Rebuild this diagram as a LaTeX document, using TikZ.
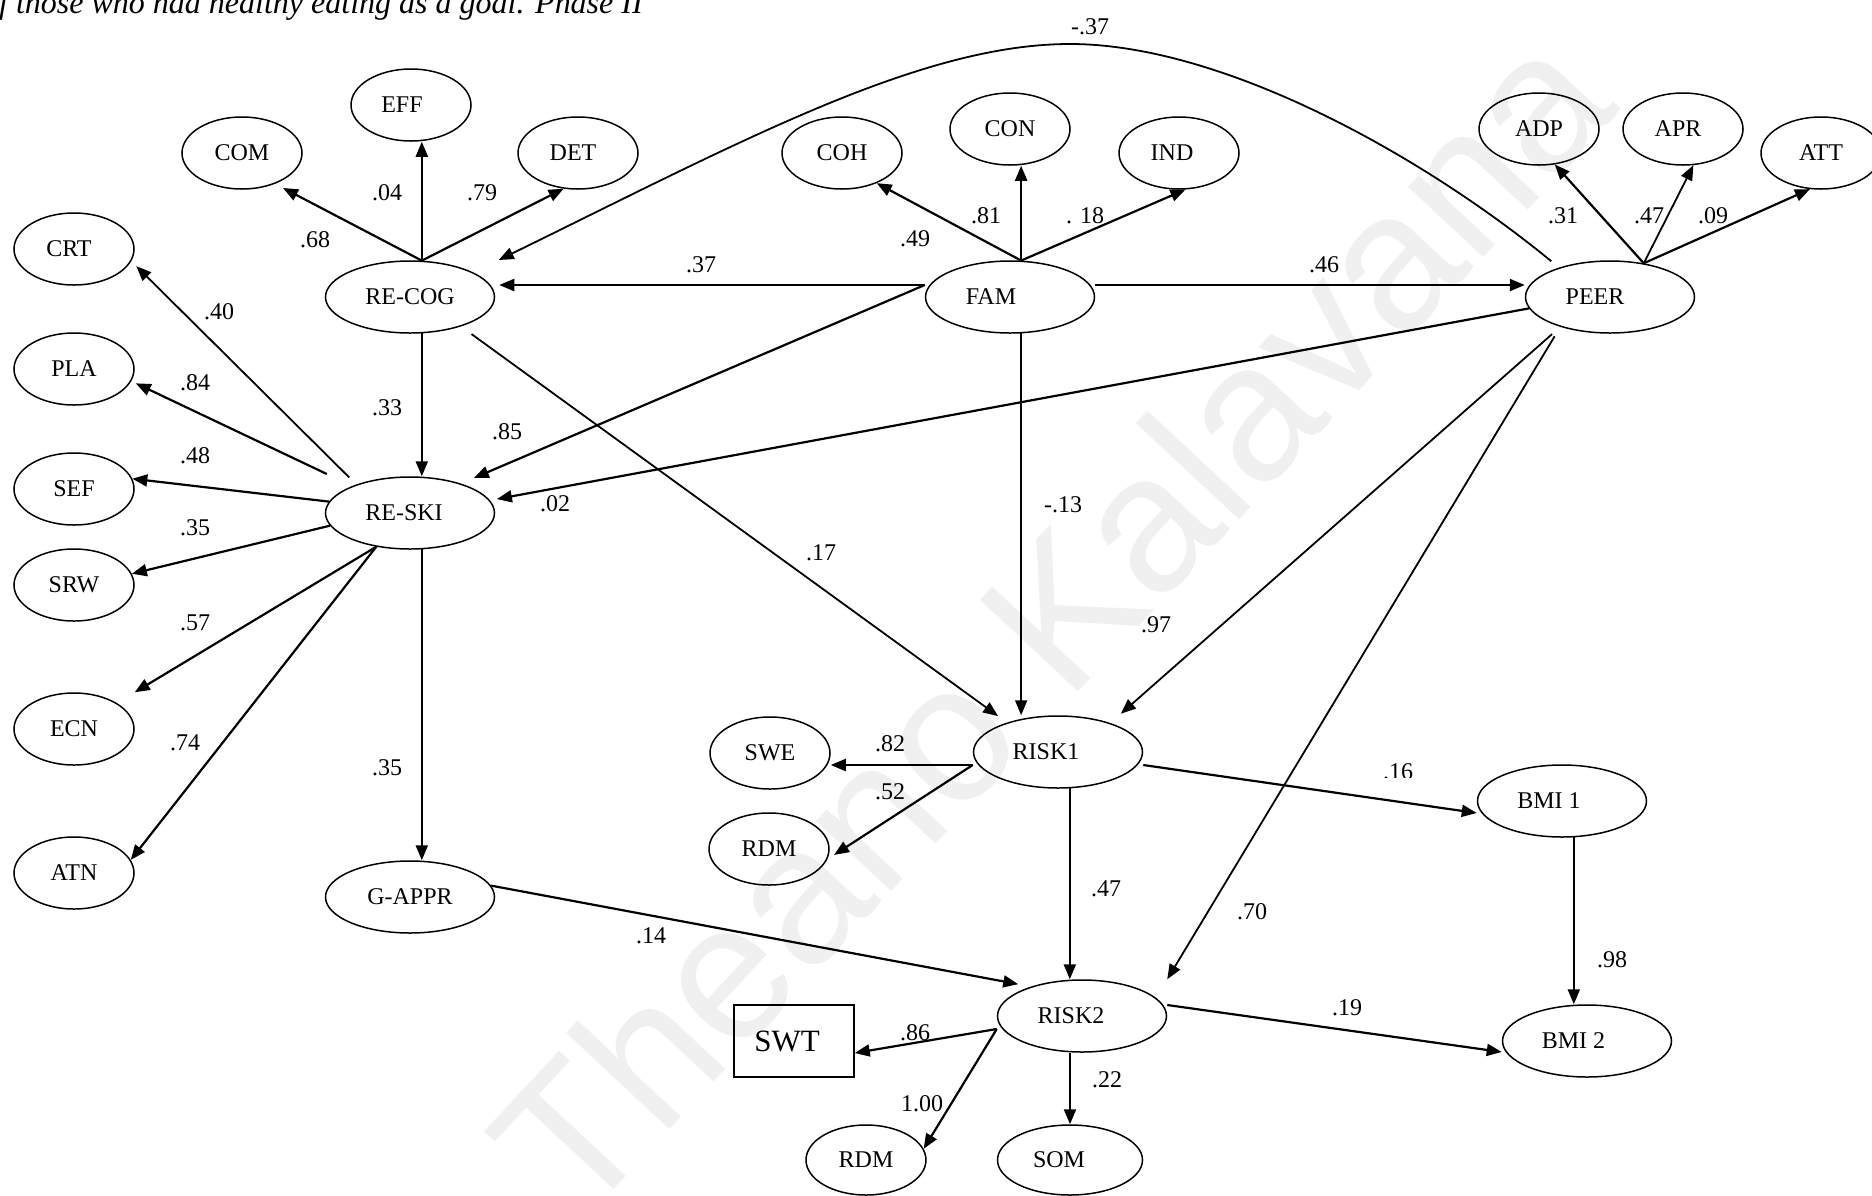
\documentclass[tikz,border=0pt]{standalone}
\usepackage{fontspec}
\setmainfont{Liberation Serif}
\newfontfamily\wmfont{Liberation Sans}
\usetikzlibrary{shapes.geometric,arrows.meta}
\newcommand{\shl}[2]{#2\hspace*{#1pt}}
\begin{document}
\begin{tikzpicture}[x=1pt,y=-1pt,
  el/.style={ellipse, draw, line width=1.5pt, minimum width=120pt, minimum height=72pt, inner sep=0pt, font=\fontsize{24}{28}\selectfont},
  bel/.style={el, minimum width=169pt},
  lab/.style={inner sep=0pt, font=\fontsize{24}{28}\selectfont},
  arr/.style={-{Triangle[length=15pt,width=12pt]}, line width=2.2pt},
  tarr/.style={arr, line width=1.8pt}
]
\useasboundingbox (0,0) rectangle (1872,1195);
% watermark
\node[rotate=47, text=black!6, font=\wmfont\fontsize{195}{200}\selectfont, inner sep=0pt] (wm) at (1050,620) {Theano Kalavana};
% title
\node[anchor=base west, inner sep=0pt, font=\itshape\fontsize{32}{36}\selectfont] (title) at (-1,13) {f those who had healthy eating as a goal. Phase II};

% nodes
\node[el] (eff) at (411,105) {\shl{18}{EFF}};
\node[el] (com) at (242,153) {COM};
\node[el] (det) at (578,153) {\shl{10}{DET}};
\node[el] (crt) at (74,249) {\shl{10}{CRT}};
\node[el] (pla) at (74,369) {PLA};
\node[el] (sef) at (74,489) {SEF};
\node[el] (srw) at (74,585) {SRW};
\node[el] (ecn) at (74,729) {ECN};
\node[el] (atn) at (74,873) {ATN};
\node[bel] (recog) at (410,297) {RE-COG};
\node[bel] (resk) at (410,513) {\shl{12}{RE-SKI}};
\node[bel] (gappr) at (410,897) {G-APPR};
\node[el] (coh) at (842,153) {COH};
\node[el] (con) at (1010,129) {CON};
\node[el] (ind) at (1179,153) {\shl{14}{IND}};
\node[bel] (fam) at (1010,297) {\shl{38}{FAM}};
\node[el] (adp) at (1539,129) {ADP};
\node[el] (apr) at (1683,129) {\shl{10}{APR}};
\node[el] (att) at (1821,153) {ATT};
\node[bel] (peer) at (1610,297) {\shl{30}{PEER}};
\node[bel] (risk1) at (1058,752) {\shl{24}{RISK1}};
\node[el] (swe) at (770,753) {SWE};
\node[el] (rdma) at (769,849) {RDM};
\node[bel] (risk2) at (1082,1016) {\shl{22}{RISK2}};
\node[draw, line width=1.5pt, minimum width=120pt, minimum height=72pt, inner sep=0pt, font=\fontsize{31}{36}\selectfont] (swt) at (794,1041) {\shl{14}{SWT}};
\node[el, minimum height=70pt] (rdmb) at (866,1160) {RDM};
\node[el, minimum width=145pt, minimum height=70pt] (som) at (1070,1160) {\shl{22}{SOM}};
\node[bel] (bmia) at (1562,801) {\shl{26}{BMI 1}};
\node[bel] (bmib) at (1587,1041) {\shl{27}{BMI 2}};

% connectors
\draw[arr, shorten >=9pt] (recog.72) -- (com.-43);
\draw[arr] (recog.72) -- (recog.72 |- eff.south);
\draw[arr] (recog.72) -- (det.-112);
\draw[tarr, shorten <=10pt] (peer.150) .. controls (1418,152) and (1220,44) .. (1070,44) .. controls (920,44) and (740,142) .. ([xshift=3.5pt,yshift=37pt]recog.east);
\draw[arr] ([yshift=12pt]fam.west) -- ([xshift=4pt,yshift=12pt]recog.east);
\draw[arr] ([yshift=12pt]fam.east) -- ([yshift=12pt]peer.west);
\draw[arr] (fam.73) -- (coh.-41);
\draw[arr] (fam.73) -- (fam.73 |- con.south);
\draw[arr] (fam.73) -- (ind.-80);
\draw[arr] (peer.45) -- (adp.-66);
\draw[tarr] (peer.45) -- (apr.-74);
\draw[arr] (peer.45) -- (att.-107);
\draw[arr, shorten >=14pt] ([yshift=12pt]fam.west) -- (resk.30);
\draw[arr, shorten >=7pt] (peer.-172) -- (resk.9);
\draw[arr] (recog.-72) -- (recog.-72 |- resk.north);
\draw[tarr, shorten <=13pt, shorten >=11pt] (recog.-30) -- (risk1.150);
\draw[tarr, shorten <=10pt, shorten >=7pt] (resk.152) -- (crt.-12);
\draw[arr, shorten <=28pt, shorten >=5pt] (resk.155) -- (pla.-12);
\draw[arr] (resk.172) -- (sef.10);
\draw[arr] (resk.-171) -- (srw.11);
\draw[arr] (resk.-135) -- (ecn.north -| ecn.east);
\draw[arr] (resk.-135) -- (atn.13);
\draw[arr] (resk.-72) -- (resk.-72 |- gappr.north);
\draw[arr, shorten >=13pt] (gappr.8) -- (risk2.150);
\draw[tarr] (fam.-73) -- (fam.-73 |- risk1.north);
\draw[tarr, shorten <=11pt, shorten >=14pt] (peer.-149) -- (risk1.29);
\draw[tarr, shorten <=11pt] (peer.-149) -- (risk2.north -| risk2.east);
\draw[arr] ([yshift=-13pt]risk1.west) -- ([yshift=-12pt]swe.east);
\draw[arr, shorten >=8pt] ([yshift=-13pt]risk1.west) -- (rdma.-10);
\draw[arr] (risk1.-72) -- (risk1.-72 |- risk2.north);
\draw[arr] ([yshift=-13pt]risk1.east) -- ([yshift=-12pt]bmia.west);
\draw[arr] (bmia.-72) -- (bmia.-72 |- bmib.north);
\draw[arr] ([yshift=-13pt]risk2.west) -- ([yshift=-12pt]swt.east);
\draw[arr] ([yshift=-13pt]risk2.west) -- (rdmb.11);
\draw[arr] (som.north |- risk2.south) -- (som.north);
\draw[arr] ([yshift=11pt]risk2.east) -- ([yshift=-11pt]bmib.west);

% coefficient labels
\node[lab] (c01) at (315,240) {.68};
\node[lab] (c02) at (387,193) {.04};
\node[lab] (c03) at (482,193) {.79};
\node[lab] (c04) at (219,312) {.40};
\node[lab] (c05) at (701,265) {.37};
\node[lab] (c06) at (1090,27) {-.37};
\node[lab] (c07) at (915,239) {.49};
\node[lab] (c08) at (986,216) {.81};
\node[lab] (c09) at (1085,216) {. 18};
\node[lab] (c10) at (1324,265) {.46};
\node[lab] (c11) at (1563,216) {.31};
\node[lab] (c12) at (1649,216) {.47};
\node[lab] (c13) at (1713,216) {.09};
\node[lab] (c14) at (195,383) {.84};
\node[lab] (c15) at (195,456) {.48};
\node[lab] (c16) at (387,408) {.33};
\node[lab] (c17) at (507,432) {.85};
\node[lab] (c18) at (555,504) {.02};
\node[lab] (c19) at (195,528) {.35};
\node[lab] (c20) at (195,623) {.57};
\node[lab] (c21) at (185,743) {.74};
\node[lab] (c22) at (387,768) {.35};
\node[lab] (c23) at (651,936) {.14};
\node[lab] (c24) at (1063,505) {-.13};
\node[lab] (c25) at (821,553) {.17};
\node[lab] (c26) at (1156,625) {.97};
\node[lab] (c27) at (890,744) {.82};
\node[lab] (c28) at (890,792) {.52};
\node[lab] (c29) at (1106,889) {.47};
\node[lab] (c30) at (1252,912) {.70};
\node[lab] (c31) at (915,1033) {.86};
\node[lab] (c32) at (922,1104) {1.00};
\node[lab] (c33) at (1107,1080) {.22};
\node[lab] (c34) at (1347,1008) {.19};
\node[lab] (c36) at (1612,960) {.98};
\begin{scope}
\clip (1360,740) rectangle (1440,777);
\node[lab] (c35) at (1398,772) {.16};
\end{scope}
\end{tikzpicture}
\end{document}
